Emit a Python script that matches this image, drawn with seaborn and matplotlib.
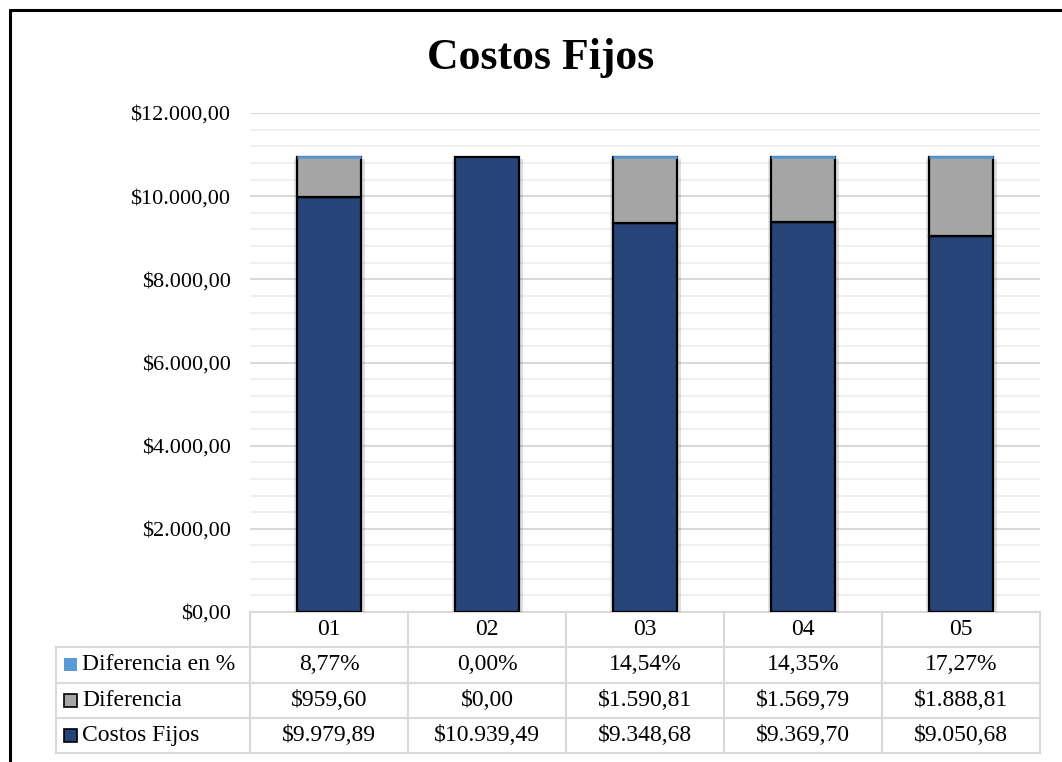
import matplotlib
matplotlib.use("Agg")
import matplotlib.pyplot as plt
import matplotlib.patheffects as pe
from matplotlib.ticker import MultipleLocator, FuncFormatter
from matplotlib.patches import Rectangle
from matplotlib.lines import Line2D
import seaborn as sns
import numpy as np

# ---- data ----
categories = ["01", "02", "03", "04", "05"]
costos_fijos = [9979.89, 10939.49, 9348.68, 9369.70, 9050.68]
diferencia = [959.60, 0.00, 1590.81, 1569.79, 1888.81]
diferencia_pct = [8.77, 0.00, 14.54, 14.35, 17.27]   # in percent
series_names = ["Diferencia en %", "Diferencia", "Costos Fijos"]

C_FIJOS = "#264478"
C_DIF = "#A5A5A5"
C_PCT = "#5B9BD5"

sns.set_theme(style="white")
plt.rcParams["font.family"] = ["Liberation Serif", "DejaVu Serif"]
plt.rcParams["text.color"] = "black"
plt.rcParams["ytick.color"] = "black"
plt.rcParams["xtick.color"] = "black"


def money(v):
    s = f"{v:,.2f}"
    return "$" + s.replace(",", "_").replace(".", ",").replace("_", ".")


def pct(v):
    return f"{v:.2f}".replace(".", ",") + "%"


W, H = 1062, 762
fig = plt.figure(figsize=(W / 100, H / 100), dpi=100)
fig.patch.set_facecolor("white")

# plot area in pixel terms
L, R, T, B = 250, 1040, 113, 612
ax = fig.add_axes([L / W, 1 - B / H, (R - L) / W, (B - T) / H])

shadow = [
    pe.SimplePatchShadow(offset=(3, -1.5), shadow_rgbFace="k", alpha=0.14),
    pe.SimplePatchShadow(offset=(-2, -1.5), shadow_rgbFace="k", alpha=0.10),
    pe.Normal(),
]

bar_w = 64 / 158
cf = np.array(costos_fijos)
dif = np.array(diferencia)
pct_vals = np.array(diferencia_pct) / 100.0

sns.barplot(x=categories, y=cf, color=C_FIJOS, saturation=1, width=bar_w,
            edgecolor="black", linewidth=1.6, errorbar=None, ax=ax)
sns.barplot(x=categories, y=dif, bottom=cf, color=C_DIF, saturation=1, width=bar_w,
            edgecolor="black", linewidth=1.6, errorbar=None, ax=ax)
n1 = len(ax.patches)
sns.barplot(x=categories, y=pct_vals, bottom=cf + dif, color=C_PCT, saturation=1,
            width=bar_w, edgecolor=C_PCT, linewidth=2.0, errorbar=None, ax=ax)

for i, p in enumerate(ax.patches):
    if i < n1:
        if p.get_height() > 0:
            p.set_path_effects(shadow)
        else:
            p.set_linewidth(0)
    else:
        p.set_zorder(3)
        if p.get_height() <= 0:
            p.set_visible(False)

ax.set_ylim(0, 12000)
ax.set_xlim(-0.5, 4.5)
ax.yaxis.set_major_locator(MultipleLocator(2000))
ax.yaxis.set_minor_locator(MultipleLocator(400))
ax.yaxis.set_major_formatter(FuncFormatter(lambda v, _: money(v)))
ax.grid(axis="y", which="major", color="#D9D9D9", linewidth=1.5)
ax.grid(axis="y", which="minor", color="#F0F0F0", linewidth=1.5)
ax.set_axisbelow(True)
ax.tick_params(axis="y", which="both", length=0, pad=14, labelsize=16,
               labelcolor="black")
ax.tick_params(axis="x", which="both", length=0, labelbottom=False)
for s in ax.spines.values():
    s.set_visible(False)
ax.set_xlabel("")
ax.set_ylabel("")

fig.text(541 / W, 1 - 58 / H, "Costos Fijos", ha="center", va="center",
         fontsize=31.5, fontweight="bold", color="black")


# ---- data table under the plot ----
def ax_x(px):
    return (px - L) / (R - L)


def ax_y(py):
    return (B - py) / (B - T)


tab_left, tab_bottom = 56, 753
rows = [[""] + categories,
        [series_names[0]] + [pct(v) for v in diferencia_pct],
        [series_names[1]] + [money(v) for v in diferencia],
        [series_names[2]] + [money(v) for v in costos_fijos]]
col_w = [L - tab_left] + [(R - L) / len(categories)] * len(categories)
table = ax.table(cellText=rows, colWidths=col_w, cellLoc="center",
                 bbox=[ax_x(tab_left), ax_y(tab_bottom),
                       (R - tab_left) / (R - L), (tab_bottom - B) / (B - T)])
table.auto_set_font_size(False)
for (r, c), cell in table.get_celld().items():
    cell.set_edgecolor("#D9D9D9")
    cell.set_linewidth(1.5)
    cell.get_text().set_fontsize(17)
    cell.get_text().set_color("black")
    if r == 0 and c == 0:
        cell.visible_edges = ""
    if c == 0 and r > 0:
        cell.PAD = 26 / col_w[0]
        cell.get_text().set_ha("left")
        cell._loc = "left"

# legend keys in the row-label cells
row_h = (tab_bottom - B) / 4
key_colors = [(C_PCT, "none"), (C_DIF, "black"), (C_FIJOS, "black")]
for k, (fc, ec) in enumerate(key_colors):
    cy = B + row_h * (k + 1.5)
    ax.add_patch(Rectangle((ax_x(64), ax_y(cy + 6.5)), 13 / (R - L), 13 / (B - T),
                           transform=ax.transAxes, facecolor=fc, edgecolor=ec,
                           linewidth=1.2, clip_on=False, zorder=5))

# chart frame
fig.add_artist(Line2D([10 / W, 10 / W], [0, 1 - 10 / H], color="black", linewidth=2.2))
fig.add_artist(Line2D([10 / W, 1], [1 - 10 / H, 1 - 10 / H], color="black", linewidth=2.2))

fig.savefig("out.png", dpi=100, facecolor="white")
